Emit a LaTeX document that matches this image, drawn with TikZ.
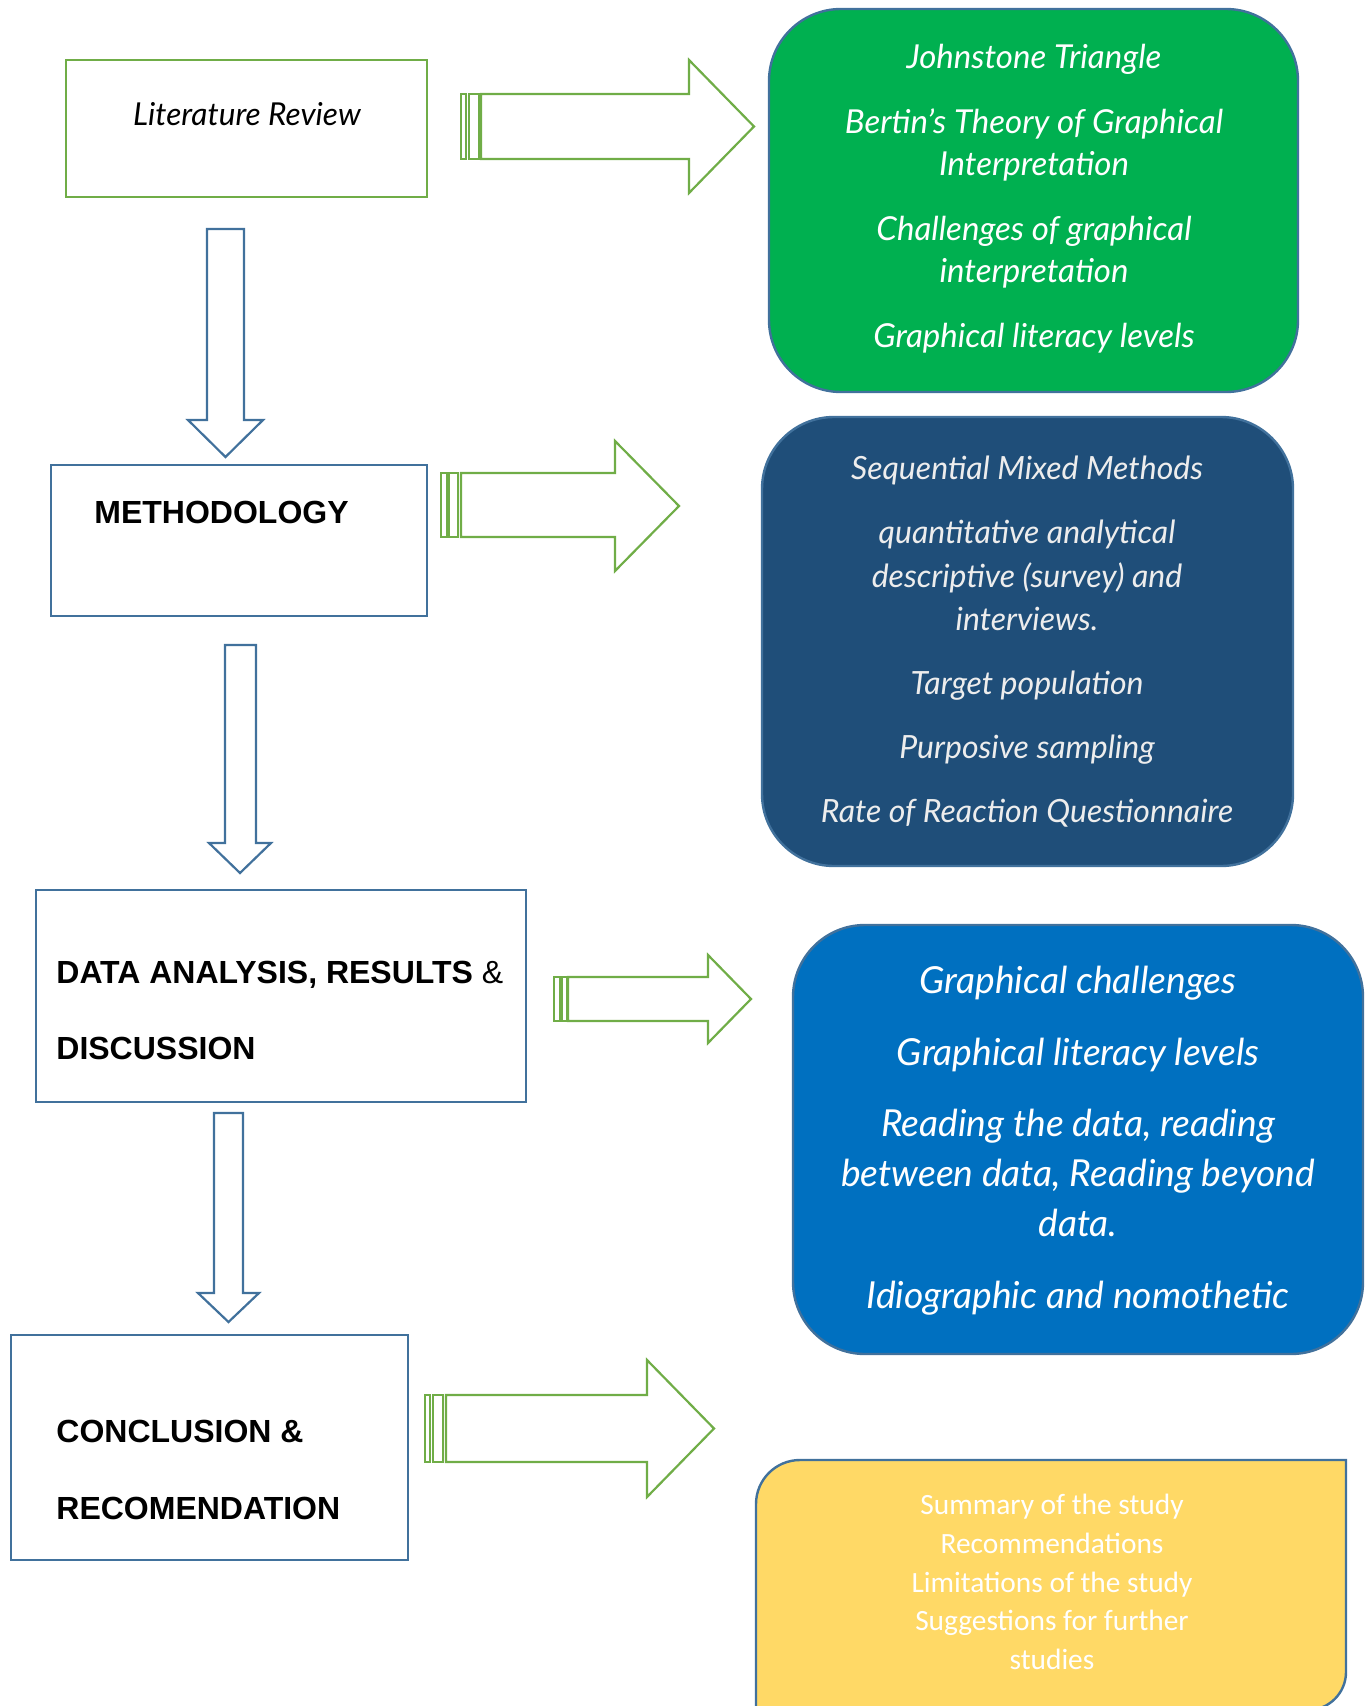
\documentclass[tikz,border=0pt]{standalone}
\usepackage{fontspec}
\setmainfont{Liberation Sans}
\newfontfamily\handfont{Lato}
\newfontfamily\bodyfont{Carlito}
\usetikzlibrary{fit}

\definecolor{leafgreen}{HTML}{70AD47}
\definecolor{steelblue}{HTML}{41719C}
\definecolor{boxgreen}{HTML}{00B050}
\definecolor{topicnavy}{HTML}{1F4E79}
\definecolor{topicblue}{HTML}{0070C0}
\definecolor{topicgold}{HTML}{FFD966}
\definecolor{paletext}{HTML}{EDEDED}

\begin{document}
\begin{tikzpicture}[x=0.5pt,y=-0.5pt,
  stage/.style={draw=steelblue, line width=1.3pt, inner sep=0pt},
  topic/.style={draw=steelblue, line width=1.2pt, rounded corners=36pt, inner sep=0pt},
  headline/.style={font=\bfseries\fontsize{16}{19}\selectfont, inner sep=0pt, anchor=base west},
  hand/.style={font=\handfont\itshape, align=center, inner sep=0pt},
  feed/.style={draw=leafgreen, line width=1.1pt, fill=white, line join=miter},
  flow/.style={draw=steelblue, line width=1.1pt, fill=white, line join=miter}]

\useasboundingbox (0,0) rectangle (1370,1706);

% ---------- chapter boxes on the left ----------
\node[stage, draw=leafgreen, fit={(66,60)(427,197)}] (lit) {};
\node[stage, fit={(51,465)(427,616)}] (meth) {};
\node[stage, fit={(36,890)(526,1102)}] (data) {};
\node[stage, fit={(11,1335)(408,1560)}] (concl) {};

\node[hand, anchor=base, font=\handfont\itshape\fontsize{15.8}{18}\selectfont] (littext) at (247,126) {Literature Review};
\node[headline] (methtext) at (94,523) {METHODOLOGY};
\node[headline] (datatexta) at (56,983) {DATA ANALYSIS, RESULTS {\mdseries\&}};
\node[headline] (datatextb) at (56,1059) {DISCUSSION};
\node[headline] (concltexta) at (56,1442) {CONCLUSION \&};
\node[headline] (concltextb) at (56,1519) {RECOMENDATION};

% ---------- downward block arrows between chapters ----------
\draw[flow] (207,229) -- (244,229) -- (244,420) -- (263,420) -- (225.5,457) -- (188,420) -- (207,420) -- cycle;
\draw[flow] (225,645) -- (256,645) -- (256,843) -- (271,843) -- (240,873) -- (209,843) -- (225,843) -- cycle;
\draw[flow] (214,1113) -- (243,1113) -- (243,1293) -- (259,1293) -- (228.5,1322) -- (198,1293) -- (214,1293) -- cycle;

% ---------- striped arrows towards the topic boxes ----------
\draw[feed] (461,94) rectangle (466,159);
\draw[feed] (469,94) rectangle (479,159);
\draw[feed] (481,94) -- (689,94) -- (689,60) -- (754,126.5) -- (689,193) -- (689,159) -- (481,159) -- cycle;

\draw[feed] (441,473) rectangle (447,537);
\draw[feed] (449,473) rectangle (458,537);
\draw[feed] (461,473) -- (615,473) -- (615,441) -- (679,506) -- (615,571) -- (615,537) -- (461,537) -- cycle;

\draw[feed] (554,977) rectangle (560,1021);
\draw[feed] (562,977) rectangle (567,1021);
\draw[feed] (568,977) -- (708,977) -- (708,955) -- (751,999) -- (708,1043) -- (708,1021) -- (568,1021) -- cycle;

\draw[feed] (425,1395) rectangle (430,1462);
\draw[feed] (433,1395) rectangle (443,1462);
\draw[feed] (446,1395) -- (647,1395) -- (647,1360) -- (714,1428.5) -- (647,1497) -- (647,1462) -- (446,1462) -- cycle;

% ---------- topic boxes ----------
\node[topic, fill=boxgreen, fit={(769,9)(1298,392)}] (theory) {};
\node[hand, text=white, font=\handfont\itshape\fontsize{16.5}{21}\selectfont] (theorytext) at (1034,199)
  {Johnstone Triangle\\[11.5pt]
   Bertin’s Theory of Graphical\\ Interpretation\\[11.5pt]
   Challenges of graphical\\ interpretation\\[11.5pt]
   Graphical literacy levels};

\node[topic, fill=topicnavy, fit={(762,417)(1293,866)}] (design) {};
\node[hand, text=paletext, font=\handfont\itshape\fontsize{16}{21.75}\selectfont] (designtext) at (1027,642)
  {Sequential Mixed Methods\\[10.25pt]
   quantitative analytical\\ descriptive (survey) and\\ interviews.\\[10.25pt]
   Target population\\[10.25pt]
   Purposive sampling\\[10.25pt]
   Rate of Reaction Questionnaire};

\node[topic, fill=topicblue, fit={(793,925)(1363,1354)}] (findings) {};
\node[hand, text=white, font=\handfont\itshape\fontsize{18.6}{25}\selectfont] (findingstext) at (1078,1140.5)
  {Graphical challenges\\[10.75pt]
   Graphical literacy levels\\[10.75pt]
   Reading the data, reading\\ between data, Reading beyond\\ data.\\[10.75pt]
   Idiographic and nomothetic};

% closing box: rounded at top left and bottom right only
\draw[draw=steelblue, line width=1.2pt, fill=topicgold]
  (756,1710) -- (756,1504) arc[start angle=180, end angle=270, radius=44]
  -- (1346,1460) -- (1346,1672) arc[start angle=0, end angle=90, radius=38] -- cycle;
\node[align=center, inner sep=0pt, text=white, font=\bodyfont\fontsize{14.7}{19.3}\selectfont] (closetext) at (1052,1582)
  {Summary of the study\\ Recommendations\\ Limitations of the study\\ Suggestions for further\\ studies};

\end{tikzpicture}
\end{document}
